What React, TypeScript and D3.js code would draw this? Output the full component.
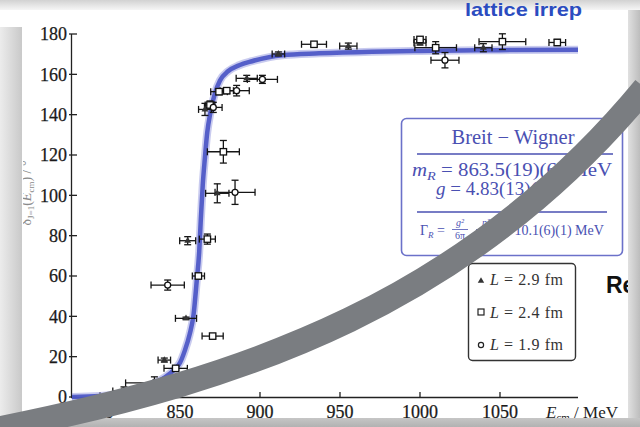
import React from "react";
import * as d3 from "d3";

// fitted Breit-Wigner line
const curveE = [782.5, 800, 815, 830, 840, 847, 850, 853, 856, 858.5, 860.5, 862, 863, 864.2, 865.5, 867, 869, 872, 875, 880, 887, 895, 914, 937, 970, 1000, 1050, 1098.75];
const curveDelta = [0, 0.5, 2, 5.5, 9.5, 14, 17, 23, 31, 41, 58, 72, 88, 105, 118, 131, 141, 151, 157, 161.5, 164.5, 166.5, 169.5, 170.4, 171.2, 171.6, 172, 172.2];

// L = 2.9 fm (triangles)
const triE = [840.2, 853.75, 854.8, 865.6, 873.3, 891.7, 911.5, 955.2, 1000, 1039.6];
const triDelta = [18.3, 39, 77.5, 142.6, 101, 158, 170.1, 174, 175.5, 173.2];
const triEErr = [3.9, 6.6, 5, 4, 7.3, 6.6, 3.9, 5.4, 3.75, 5.4];
const triDErr = [1, 0.6, 2, 3, 4.7, 1.5, 1, 1.5, 1, 2];

// L = 2.4 fm (squares)
const sqE = [847.3, 861.5, 867.1, 868.75, 870.4, 874.4, 877.1, 879.2, 933.75, 1000, 1009.8, 1051.5, 1085.8];
const sqDelta = [14.2, 60, 78.3, 144.8, 30.2, 151.4, 121.6, 151.9, 174.9, 177.3, 173.2, 176.2, 175.8];
const sqEErr = [7.3, 3.8, 5, 3, 6.6, 5.2, 10, 4.2, 7.8, 3.75, 13, 14.6, 5.2];
const sqDErr = [1, 1.5, 2.5, 2, 1, 1.5, 5.6, 1.5, 1, 1, 3, 3.9, 1.5];

// L = 1.9 fm (circles)
const cirE = [815, 834, 842.3, 870.8, 884.4, 885.4, 901.5, 1015.6];
const cirDelta = [3, 7, 55.5, 143.6, 101.5, 151.9, 157.5, 167];
const cirEErr = [7, 18, 10.4, 5.5, 12.5, 7.9, 9.4, 8.75];
const cirDErr = [2, 3, 2.5, 2.5, 6, 2.6, 2, 3.8];

const xTicks = [800, 850, 900, 950, 1000, 1050];
const yTicks = [0, 20, 40, 60, 80, 100, 120, 140, 160, 180];
const legendL = ["2.9", "2.4", "1.9"];

const serif = "'Liberation Serif', 'DejaVu Serif', serif";
const sans = "'Liberation Sans', Arial, sans-serif";
const bwBlue = "#4a50b2";

export default function App() {
  const x = d3.scaleLinear().domain([782.5, 1098.75]).range([72, 578]);
  const y = d3.scaleLinear().domain([0, 180]).range([397, 34]);

  const bwLine = d3
    .line<number>()
    .x((_, i) => x(curveE[i]))
    .y((d) => y(d))
    .curve(d3.curveMonotoneX);
  const bwPath = bwLine(curveDelta);
  // grey pen stroke drawn over the slide
  const swoosh = "M-12,431 C250,380 470,300 645,88";
  const tri = d3.symbol(d3.symbolTriangle, 20)();

  const errBar = (e, d, xe, ye, k) => {
    const x0 = x(e - xe), x1 = x(e + xe), cx = x(e);
    const y0 = y(d - ye), y1 = y(d + ye), cy = y(d);
    return (
      <g key={k} stroke="#151515" strokeWidth={1.3} fill="none">
        <line x1={x0} x2={x1} y1={cy} y2={cy} />
        <line x1={x0} x2={x0} y1={cy - 3.5} y2={cy + 3.5} />
        <line x1={x1} x2={x1} y1={cy - 3.5} y2={cy + 3.5} />
        <line x1={cx} x2={cx} y1={y0} y2={y1} />
        <line x1={cx - 3.5} x2={cx + 3.5} y1={y0} y2={y0} />
        <line x1={cx - 3.5} x2={cx + 3.5} y1={y1} y2={y1} />
      </g>
    );
  };

  return (
    <div style={{ position: "fixed", left: 0, top: 0 }}>
      <svg width={640} height={427} style={{ display: "block" }}>
        <defs>
          <linearGradient id="gTop" x1="0" y1="0" x2="0" y2="1">
            <stop offset="0" stopColor="#d2d2d2" />
            <stop offset="1" stopColor="#f6f6f6" />
          </linearGradient>
          <linearGradient id="gLeft" x1="0" y1="0" x2="1" y2="0">
            <stop offset="0" stopColor="#ececec" />
            <stop offset="1" stopColor="#c9c9c9" />
          </linearGradient>
          <linearGradient id="gRight" x1="0" y1="0" x2="1" y2="0">
            <stop offset="0" stopColor="#e0e0e0" />
            <stop offset="1" stopColor="#bdbdbd" />
          </linearGradient>
          <linearGradient id="gBottom" x1="0" y1="0" x2="0" y2="1">
            <stop offset="0" stopColor="#c6c6c6" />
            <stop offset="1" stopColor="#b2b2b2" />
          </linearGradient>
          <clipPath id="card">
            <rect x={23} y={0} width={605} height={418} />
          </clipPath>
        </defs>

        <rect width={640} height={427} fill="#fff" />
        <rect x={0} y={0} width={640} height={10} fill="url(#gTop)" />

        <text x={465} y={16} fontFamily={sans} fontWeight="bold" fontSize={19} fill="#2b4cc0"
          textLength={117} lengthAdjust="spacingAndGlyphs">lattice irrep</text>

        {/* y axis label, cut by the card edge */}
        <g clipPath="url(#card)">
          <text transform="rotate(-90)" x={-193} y={31} textAnchor="middle" fontFamily={serif}
            fontSize={14} fill="#8a8a8a">
            δ<tspan fontSize={9} dy={3}>J=1</tspan>
            <tspan dy={-3}>(</tspan><tspan fontStyle="italic">E</tspan>
            <tspan fontSize={9} dy={3}>cm</tspan><tspan dy={-3}>) / °</tspan>
          </text>
        </g>

        {/* axes */}
        <g stroke="#222" strokeWidth={1.3}>
          <line x1={71.5} x2={71.5} y1={y(180)} y2={y(0) + 0.6} />
          <line x1={71} x2={578} y1={y(0) + 0.5} y2={y(0) + 0.5} />
          {yTicks.map((t) => (
            <line key={t} x1={69} x2={77} y1={y(t)} y2={y(t)} />
          ))}
          {xTicks.map((t) => (
            <line key={t} x1={x(t)} x2={x(t)} y1={y(0)} y2={y(0) - 5} />
          ))}
        </g>
        <g fontFamily={serif} fontSize={18} fill="#1a1a1a" stroke="#1a1a1a" strokeWidth={0.25}>
          {yTicks.map((t) => (
            <text key={t} x={67} y={y(t)} dy="0.35em" textAnchor="end">{t}</text>
          ))}
          {xTicks.map((t) => (
            <text key={t} x={x(t)} y={418} textAnchor="middle">{t}</text>
          ))}
        </g>
        <text x={546} y={418} fontFamily={serif} fontSize={17} fill="#222">
          <tspan fontStyle="italic">E</tspan><tspan fontSize={11} dy={3}>cm</tspan>
          <tspan dy={-3}> / MeV</tspan>
        </text>

        {/* fitted line */}
        <path d={bwPath} fill="none" stroke="#9ca1e2" strokeWidth={8} strokeOpacity={0.55} />
        <path d={bwPath} fill="none" stroke="#4853c4" strokeWidth={4.5} strokeOpacity={0.9} />

        {/* data */}
        {triE.map((e, i) => errBar(e, triDelta[i], triEErr[i], triDErr[i], "t" + i))}
        {sqE.map((e, i) => errBar(e, sqDelta[i], sqEErr[i], sqDErr[i], "s" + i))}
        {cirE.map((e, i) => errBar(e, cirDelta[i], cirEErr[i], cirDErr[i], "c" + i))}
        {triE.map((e, i) => (
          <path key={"tm" + i} d={tri} transform={`translate(${x(e)},${y(triDelta[i])})`} fill="#333" />
        ))}
        {sqE.map((e, i) => (
          <rect key={"sm" + i} x={x(e) - 3.2} y={y(sqDelta[i]) - 3.2} width={6.4} height={6.4}
            fill="#fff" stroke="#111" strokeWidth={1.3} />
        ))}
        {cirE.map((e, i) => (
          <circle key={"cm" + i} cx={x(e)} cy={y(cirDelta[i])} r={3} fill="#fff" stroke="#111" strokeWidth={1.3} />
        ))}

        {/* Breit-Wigner box */}
        <rect x={401.5} y={118.5} width={221} height={137} rx={5} fill="#fff" stroke="#6b71c9" strokeWidth={1.6} />
        <g fontFamily={serif} fill={bwBlue}>
          <text x={513} y={144} textAnchor="middle" fontSize={20} textLength={123} lengthAdjust="spacingAndGlyphs">Breit − Wigner</text>
          <line x1={417} x2={613} y1={154} y2={154} stroke={bwBlue} strokeWidth={1.3} />
          <text x={412} y={176} fontSize={19} textLength={200} lengthAdjust="spacingAndGlyphs">
            <tspan fontStyle="italic">m</tspan><tspan fontStyle="italic" fontSize={13} dy={4}>R</tspan>
            <tspan dy={-4}> = 863.5(19)(6) MeV</tspan>
          </text>
          <text x={436} y={195} fontSize={19}>
            <tspan fontStyle="italic">g</tspan> = 4.83(13)(2)
          </text>
          <line x1={417} x2={607} y1={212} y2={212} stroke={bwBlue} strokeWidth={1.3} />
          <text x={420} y={235} fontSize={14}>Γ<tspan fontStyle="italic" fontSize={9} dy={3}>R</tspan><tspan dy={-3}> =</tspan></text>
          <text x={460} y={226} fontSize={10} fontStyle="italic" textAnchor="middle">g²</text>
          <line x1={452} x2={468} y1={229.5} y2={229.5} stroke={bwBlue} strokeWidth={0.8} />
          <text x={460} y={239} fontSize={10} textAnchor="middle">6π</text>
          <text x={486} y={226} fontSize={10} fontStyle="italic" textAnchor="middle">p³</text>
          <line x1={476} x2={498} y1={229.5} y2={229.5} stroke={bwBlue} strokeWidth={0.8} />
          <text x={486} y={241} fontSize={10} fontStyle="italic" textAnchor="middle">m²<tspan fontSize={8} dy={2}>R</tspan></text>
          <text x={503} y={235} fontSize={14}>= 10.1(6)(1) MeV</text>
        </g>

        {/* legend */}
        <rect x={468.5} y={263.5} width={107} height={97} rx={4} fill="#fff" stroke="#333" strokeWidth={1.4} />
        <path d={d3.symbol(d3.symbolTriangle, 18)()} transform="translate(481,281)" fill="#333" />
        <rect x={478} y={309} width={6} height={6} fill="#fff" stroke="#222" strokeWidth={1.2} />
        <circle cx={481} cy={345} r={2.6} fill="#fff" stroke="#222" strokeWidth={1.2} />
        {legendL.map((l, i) => (
          <text key={l} x={490} y={285 + i * 32.5} fontFamily={serif} fontSize={16} fill="#333"
            textLength={73} lengthAdjust="spacing">
            <tspan fontStyle="italic">L</tspan> = {l} fm
          </text>
        ))}

        <text x={606} y={293} fontFamily={sans} fontWeight="bold" fontSize={23} fill="#111">Re</text>

        {/* slide edges */}
        <rect x={0} y={27} width={22} height={391} fill="url(#gLeft)" />
        <rect x={628} y={10} width={12} height={408} fill="url(#gRight)" />
        <rect x={0} y={418} width={640} height={9} fill="url(#gBottom)" />

        <path d={swoosh} fill="none" stroke="#7a7d81" strokeWidth={25} />
      </svg>
    </div>
  );
}
